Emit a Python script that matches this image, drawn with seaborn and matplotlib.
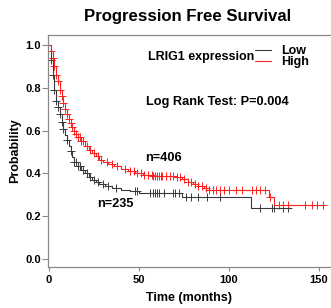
import numpy as np
import pandas as pd
import matplotlib
matplotlib.use('Agg')
import matplotlib.pyplot as plt
import seaborn as sns

# Kaplan-Meier curves (step knots: time in months, survival)
high_times = [0, 1, 2, 3, 4, 5, 6, 7, 8, 9, 10, 11, 12, 13, 14, 15, 16, 18, 20, 22, 24, 26, 28, 30,
              33, 36, 40, 44, 48, 52, 58, 70, 74, 77, 80, 83, 86, 89, 122.5, 125, 152]
high_surv = [1.0, 0.97, 0.94, 0.90, 0.86, 0.83, 0.79, 0.76, 0.73, 0.70, 0.68, 0.655, 0.635, 0.615,
             0.60, 0.585, 0.57, 0.55, 0.53, 0.51, 0.495, 0.48, 0.465, 0.455, 0.445, 0.435, 0.42,
             0.41, 0.40, 0.395, 0.39, 0.385, 0.375, 0.36, 0.35, 0.34, 0.33, 0.322, 0.29, 0.252, 0.252]
low_times = [0, 1, 2, 3, 4, 5, 6, 7, 8, 9, 10, 11, 12, 13, 14, 16, 18, 20, 22, 24, 26, 28, 31, 35,
             40, 45, 50, 74, 112, 134]
low_surv = [1.0, 0.93, 0.86, 0.79, 0.74, 0.71, 0.68, 0.64, 0.61, 0.58, 0.555, 0.53, 0.505, 0.475,
            0.455, 0.435, 0.415, 0.40, 0.385, 0.37, 0.36, 0.35, 0.34, 0.33, 0.325, 0.32, 0.307,
            0.288, 0.241, 0.241]

# censored observations (months)
high_censor = [1, 2, 3, 4, 5, 6, 7, 8, 9, 10, 11, 12, 13, 14, 15, 16, 17, 18, 19, 21, 23, 25, 27, 29,
               32, 35, 38, 42, 45, 47, 49, 51, 53, 55, 57, 58, 59, 60, 61, 62, 63, 65, 67, 69, 71,
               73, 75, 77, 79, 81, 83, 85, 87, 89, 91, 93, 95, 97, 100, 104, 107, 113, 115, 117,
               120, 123, 128, 130, 133, 142, 146, 149, 152]
low_censor = [1, 2, 3, 4, 5, 6, 7, 8, 10, 12, 14, 15, 16, 17, 19, 21, 23, 25, 27, 30, 33, 37, 48, 49,
              56, 58, 59, 60, 61, 64, 69, 70, 72, 76, 79, 83, 88, 95, 117, 124, 125, 130, 133]

groups = ['Low', 'High']
colors = {'Low': '#3a3a3a', 'High': '#ff2020'}


def surv_at(times, surv, t):
    idx = np.searchsorted(times, t, side='right') - 1
    return np.array(surv)[idx]


sns.set_style('white')
plt.rcParams['font.family'] = ['Liberation Sans', 'DejaVu Sans']
plt.rcParams['font.weight'] = 'bold'
plt.rcParams['text.color'] = 'black'
plt.rcParams['axes.labelcolor'] = 'black'

fig = plt.figure(figsize=(3.31, 3.08), dpi=100)
ax = fig.add_axes([48 / 331, 41 / 308, 283 / 331, 232 / 308])

curves = {'Low': (low_times, low_surv, low_censor), 'High': (high_times, high_surv, high_censor)}
for g in groups:
    t, s, c = curves[g]
    df = pd.DataFrame({'time': t, 'surv': s})
    sns.lineplot(data=df, x='time', y='surv', ax=ax, color=colors[g], lw=0.8,
                 drawstyle='steps-post', estimator=None, label=g)
    cdf = pd.DataFrame({'time': c, 'surv': surv_at(t, s, np.array(c))})
    sns.scatterplot(data=cdf, x='time', y='surv', ax=ax, marker='+', color=colors[g],
                    s=26, linewidth=0.7, legend=False)

ax.set_xlim(-0.55, 156.7)
ax.set_ylim(-0.037, 1.047)
ax.set_xticks([0, 50, 100, 150])
ax.set_yticks([0, 0.2, 0.4, 0.6, 0.8, 1.0])
ax.set_yticklabels(['0.0', '0.2', '0.4', '0.6', '0.8', '1.0'])
ax.tick_params(axis='y', length=4, width=0.8, color='#888888', labelcolor='black',
               labelsize=8, pad=1, left=True)
ax.tick_params(axis='x', length=3, width=0.8, color='#888888', labelcolor='black',
               labelsize=8, pad=3, bottom=True)
for lab in ax.get_xticklabels() + ax.get_yticklabels():
    lab.set_fontweight('bold')
for sp in ['left', 'bottom', 'top']:
    ax.spines[sp].set_color('#888888')
    ax.spines[sp].set_linewidth(0.9)
ax.spines['right'].set_visible(False)

ax.set_xlabel('Time (months)', fontsize=9, fontweight='bold', labelpad=5)
ax.set_ylabel('Probability', fontsize=9, fontweight='bold', labelpad=3)
fig.text(188 / 331, 1 - 16 / 308, 'Progression Free Survival', ha='center', va='center',
         fontsize=12.1, fontweight='bold')

leg = ax.legend(loc='upper left', bbox_to_anchor=(255 / 331, 1 - 45 / 308),
                bbox_transform=fig.transFigure, frameon=False, handlelength=1.3,
                handletextpad=0.8, labelspacing=-0.05, fontsize=9, borderpad=0, borderaxespad=0)
for txt in leg.get_texts():
    txt.set_fontweight('bold')
fig.text(254 / 331, 1 - 57 / 308, 'LRIG1 expression', ha='right', va='center',
         fontsize=9, fontweight='bold')
fig.text(146 / 331, 1 - 102 / 308, 'Log Rank Test: P=0.004', ha='left', va='center',
         fontsize=9.2, fontweight='bold')
fig.text(145 / 331, 1 - 158 / 308, 'n=406', ha='left', va='center', fontsize=9.2, fontweight='bold')
fig.text(97 / 331, 1 - 204 / 308, 'n=235', ha='left', va='center', fontsize=9.2, fontweight='bold')

fig.savefig('out.png', dpi=100)
